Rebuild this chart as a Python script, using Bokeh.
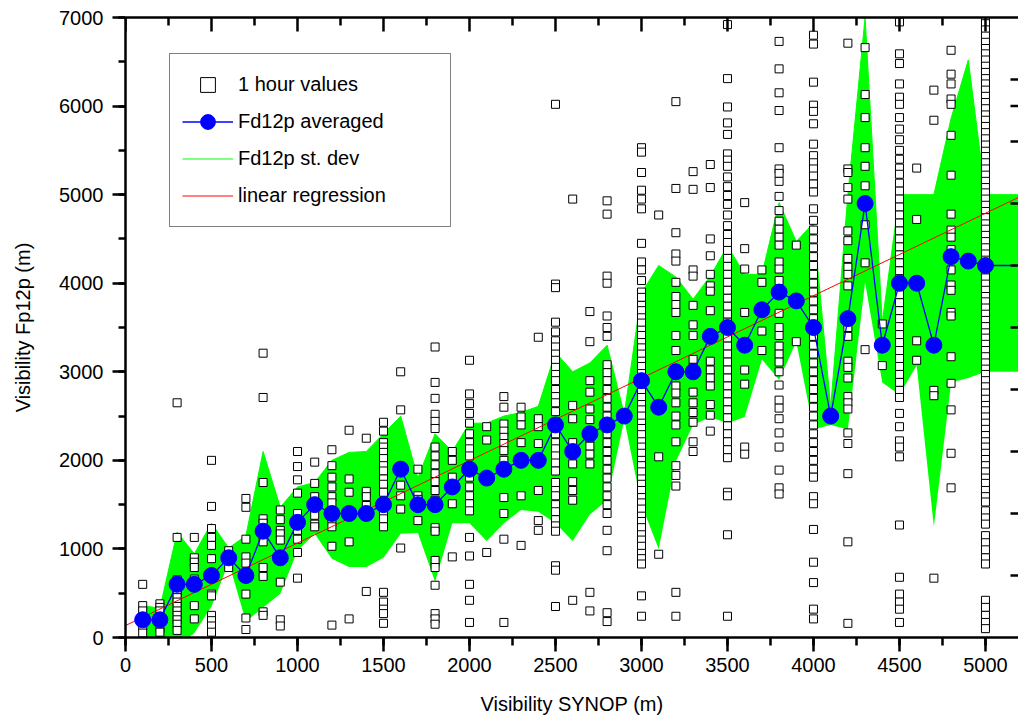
import math
from bokeh.plotting import figure
from bokeh.models import (Range1d, LinearAxis, SingleIntervalTicker, FixedTicker,
                          Legend, LegendItem)
from bokeh.embed import file_html
from bokeh.resources import INLINE

FONT = "Liberation Sans"

# ---------------- data ----------------
synop_x = [100, 200, 300, 400, 500, 600, 700, 800, 900, 1000,
           1100, 1200, 1300, 1400, 1500, 1600, 1700, 1800, 1900, 2000,
           2100, 2200, 2300, 2400, 2500, 2600, 2700, 2800, 2900, 3000,
           3100, 3200, 3300, 3400, 3500, 3600, 3700, 3800, 3900, 4000,
           4100, 4200, 4300, 4400, 4500, 4600, 4700, 4800, 4900, 5000, 5200]
fd12p_avg = [200, 200, 600, 600, 700, 900, 700, 1200, 900, 1300,
             1500, 1400, 1400, 1400, 1500, 1900, 1500, 1500, 1700, 1900,
             1800, 1900, 2000, 2000, 2400, 2100, 2300, 2400, 2500, 2900,
             2600, 3000, 3000, 3400, 3500, 3300, 3700, 3900, 3800, 3500,
             2500, 3600, 4900, 3300, 4000, 4000, 3300, 4300, 4250, 4200, 4200]
stdev_upper = [360, 330, 1190, 945, 1290, 1010, 1150, 2100, 1470, 1700,
               1750, 2000, 2090, 2100, 2300, 2500, 1800, 2300, 2100, 2420,
               2420, 2500, 2540, 2610, 3220, 3000, 3100, 3300, 2520, 3890,
               4200, 4070, 3820, 4080, 4420, 4100, 4100, 4910, 4470, 4680,
               2600, 5000, 7000, 3560, 5000, 5000, 5000, 5860, 6520, 5000, 5000]
stdev_lower = [20, -100, -100, 50, 350, 850, 180, 340, 495, 980,
               1170, 890, 795, 795, 900, 1170, 1180, 630, 1290, 1290,
               1090, 1290, 1440, 1420, 1290, 1090, 1390, 1550, 2460, 1500,
               1000, 1990, 2400, 2490, 2420, 2490, 3140, 2910, 3340, 2350,
               2400, 2350, 4010, 2880, 2740, 3070, 1250, 2880, 2930, 3000, 3000]
n_avg_points = 50   # markers only at the measured classes (100 ... 5000)

reg_intercept = 135.0
reg_slope = 0.931
reg_x = [0, 5200]

hour_cols = [100, 200, 300, 400, 500, 600, 700, 800, 900, 1000,
             1100, 1200, 1300, 1400, 1500, 1600, 1700, 1800, 1900, 2000,
             2100, 2200, 2300, 2400, 2500, 2600, 2700, 2800, 2900, 3000,
             3100, 3200, 3300, 3400, 3500, 3600, 3700, 3800, 3900, 4000,
             4100, 4200, 4300, 4400, 4500, 4600, 4700, 4800, 4900, 5000]
hour_vals = [
    [600, 360, 300, 200, 130, 50],
    [380, 340, 300, 200, 100, 60],
    [2650, 1130, 650, 600, 550, 500, 450, 400, 350, 300, 250, 200, 150, 80],
    [1130, 900, 850, 790, 660, 590, 360, 210],
    [2000, 1480, 1230, 1130, 1040, 890, 490, 470, 250, 190, 130, 60],
    [980, 900, 790],
    [1570, 1470, 1110, 910, 840, 490, 220, 90],
    [3210, 2710, 1750, 1340, 1290, 1200, 1080, 790, 690, 290, 250],
    [1440, 1330, 1210, 1170, 1100, 900, 625, 200, 130],
    [2100, 1930, 1780, 1630, 1400, 1210, 1110, 960, 670],
    [1980, 1740, 1590, 1380, 1280, 1250],
    [2120, 1940, 1810, 1700, 1590, 1520, 1300, 1250, 1030, 140],
    [2340, 1790, 1640, 1080, 210],
    [2250, 1650, 1590, 1490, 520],
    [2430, 2330, 2200, 2150, 2090, 2020, 1940, 1880, 1790, 1730, 1640, 1530,
     1400, 1340, 1250, 510, 400, 320, 270, 160],
    [3000, 2570, 1720, 1600, 1450, 1010],
    [1900, 1600, 1560, 1320],
    [3280, 2880, 2700, 2520, 2440, 2360, 2150, 2050, 1950, 1850, 1760, 1660,
     1550, 1240, 1200, 870, 790, 590, 270, 210, 150],
    [2100, 2000, 1810, 1700, 1510, 910],
    [3130, 2750, 2640, 2530, 2420, 2300, 2200, 2130, 2050, 1920, 1810, 1700,
     1600, 1510, 1430, 1130, 920, 600, 420, 170],
    [2380, 2230, 1810, 960],
    [2720, 2600, 2410, 2330, 2260, 2190, 2110, 2000, 1920, 1580, 1400, 1110, 170],
    [2600, 2490, 2400, 2200, 1600, 1040],
    [3390, 2470, 2380, 2190, 1660, 1320, 1210],
    [6020, 3990, 3950, 3560, 3450, 3350, 3280, 3200, 3130, 3050, 2970, 2900,
     2800, 2720, 2650, 2550, 2430, 2300, 2200, 2130, 2050, 1970, 1880, 1750,
     1660, 1600, 1500, 1420, 1330, 1260, 1200, 810, 760, 350],
    [4950, 2620, 2470, 2200, 2090, 1960, 1760, 1660, 1550, 420],
    [3680, 3340, 2900, 2770, 2580, 2460, 2330, 2250, 2160, 2070, 1960, 510, 300],
    [4930, 4780, 4080, 4000, 3630, 3500, 3400, 3080, 2990, 2900, 2800, 2700,
     2600, 2500, 2400, 2300, 2200, 2100, 2000, 1900, 1800, 1700, 1600, 1500,
     1400, 1210, 980, 280, 180],
    [2500],
    [5530, 5480, 5250, 5050, 4950, 4840, 4450, 4240, 4150, 4030, 3900, 3840,
     3750, 3690, 3610, 3550, 3470, 3410, 3330, 3270, 3200, 3120, 3060, 2980,
     2920, 2850, 2770, 2710, 2630, 2570, 2500, 2420, 2360, 2290, 2210, 2150,
     2080, 2000, 1940, 1870, 1790, 1730, 1660, 1580, 1520, 1450, 1370, 1310,
     1240, 1160, 1100, 1030, 950, 890, 830, 470, 240],
    [4770, 2040, 940],
    [6050, 5070, 4570, 4330, 4250, 4010, 3850, 3760, 3670, 3410, 3240, 3000,
     2840, 2760, 2650, 2500, 2400, 2210, 1940, 1830, 1710, 510, 240],
    [5260, 5060, 4150, 4080, 3750, 3530, 3410, 3140, 3050, 2770, 2650, 2540,
     2430, 2210, 2100],
    [5340, 5080, 4500, 4310, 4100, 3970, 3910, 3690, 3430, 3120, 3020, 2930,
     2840, 2630, 2510, 2330],
    [6920, 6310, 5990, 5810, 5680, 5460, 5390, 5320, 5200, 5090, 4990, 4890,
     4770, 4650, 4550, 4460, 4370, 4280, 4190, 4100, 4010, 3920, 3830, 3740,
     3650, 3560, 3470, 3380, 3290, 3200, 3110, 3020, 2930, 2840, 2750, 2660,
     2570, 2480, 2390, 2300, 2210, 2120, 2030, 1640, 1600, 1160, 240],
    [4910, 4390, 4160, 3670, 3020, 2860, 2150, 2070],
    [4150, 4010, 3460, 3240],
    [6730, 6420, 6150, 5950, 5530, 5290, 5240, 5150, 4980, 4820, 4700, 4610,
     4520, 4430, 4240, 4160, 4030, 3900, 3660, 3500, 3410, 3290, 3200, 3110,
     3000, 2850, 2680, 2590, 2470, 2310, 2150, 1890, 1690, 1620],
    [4430, 3340],
    [6800, 6700, 6270, 6010, 5940, 5800, 5570, 5440, 5360, 5290, 5210, 5120,
     5030, 4840, 4710, 4600, 4500, 4400, 4300, 4200, 4100, 4000, 3900, 3800,
     3700, 3600, 3500, 3400, 3300, 3200, 3100, 3000, 2900, 2800, 2700, 2600,
     2500, 2400, 2300, 2200, 2100, 2000, 1900, 1810, 1590, 1510, 1220, 850,
     620, 320, 210],
    [2530],
    [6710, 5290, 5250, 5080, 4950, 4590, 4480, 4280, 4180, 4100, 3970, 3600,
     3500, 3400, 3120, 3050, 2930, 2720, 2650, 2580, 2310, 2190, 1850, 1080, 160],
    [6660, 6130, 5870, 5530, 5320, 5100, 4660, 4230, 3250],
    [3540, 3070],
    [6950, 6590, 6480, 6250, 6100, 6020, 5870, 5740, 5620, 5500, 5400, 5300,
     5230, 5130, 5040, 4950, 4860, 4770, 4680, 4590, 4500, 4410, 4320, 4230,
     4140, 4050, 3960, 3870, 3780, 3690, 3600, 3510, 3420, 3330, 3240, 3150,
     3060, 2970, 2880, 2790, 2710, 2530, 2380, 2220, 2150, 2040, 1270, 680,
     490, 400, 320, 170],
    [5300, 4720, 3350, 3130],
    [6180, 5840, 2790, 2730, 670],
    [6630, 6360, 6250, 6080, 6020, 5670, 5220, 4780, 4600, 4520, 4380, 4300,
     4150, 3980, 3920, 3670, 3630, 3170, 2870, 2570, 2080, 1690],
    [4250],
    [6990, 6930, 6860, 6790, 6720, 6650, 6590, 6520, 6450, 6380, 6310, 6250,
     6180, 6110, 6040, 5970, 5900, 5840, 5770, 5700, 5630, 5560, 5490, 5430,
     5360, 5290, 5220, 5150, 5080, 5020, 4950, 4880, 4810, 4740, 4670, 4610,
     4540, 4470, 4400, 4330, 4260, 4200, 4130, 4060, 3990, 3920, 3850, 3790,
     3720, 3650, 3580, 3510, 3440, 3380, 3310, 3240, 3170, 3100, 3030, 2970,
     2900, 2830, 2760, 2690, 2620, 2560, 2490, 2420, 2350, 2280, 2210, 2150,
     2080, 2010, 1940, 1870, 1800, 1740, 1660, 1590, 1530, 1430, 1350, 1280,
     1150, 1070, 990, 900, 830, 420, 340, 250, 170, 100],
]

x_label = "Visibility SYNOP (m)"
y_label = "Visibility Fp12p (m)"
top_major_ticks = [0, 500, 1000, 1500, 2000, 2500, 3000, 3500, 4000, 4500, 5000]
top_minor_ticks = [250, 750, 1250, 1750, 2250, 2750, 3250, 3750, 4250, 4750]
right_ticks = [700, 1400, 2100, 2800, 3500, 4200, 4900, 5600, 6000, 6300]

X_END, Y_END = 5192, 7000

# ---------------- figure ----------------
p = figure(width=1018, height=724, output_backend="svg", toolbar_location=None,
           x_range=Range1d(0, X_END), y_range=Range1d(0, Y_END),
           x_axis_location=None, y_axis_location=None,
           min_border_left=125, min_border_right=0, min_border_top=17,
           min_border_bottom=87)
p.outline_line_color = None
for g in p.grid:
    g.visible = False
p.background_fill_color = "white"
p.border_fill_color = "white"


def style_axis(ax):
    ax.axis_line_width = 2.5
    ax.axis_line_color = "black"
    ax.major_tick_line_width = 2.5
    ax.minor_tick_line_width = 2.5
    ax.major_tick_line_color = "black"
    ax.minor_tick_line_color = "black"
    ax.major_label_text_font = FONT
    ax.major_label_text_font_size = "20px"
    ax.major_label_text_color = "black"
    ax.axis_label_text_font = FONT
    ax.axis_label_text_font_size = "20px"
    ax.axis_label_text_font_style = "normal"
    ax.axis_label_text_color = "black"


bottom = LinearAxis(ticker=SingleIntervalTicker(interval=500, num_minor_ticks=2),
                    axis_label=x_label)
style_axis(bottom)
bottom.major_tick_in = 0
bottom.major_tick_out = 14
bottom.minor_tick_in = 0
bottom.minor_tick_out = 8
bottom.major_label_standoff = 6
bottom.axis_label_standoff = 18
p.add_layout(bottom, "below")

left = LinearAxis(ticker=SingleIntervalTicker(interval=1000, num_minor_ticks=2),
                  axis_label=y_label)
style_axis(left)
left.major_tick_in = 0
left.major_tick_out = 13
left.minor_tick_in = 0
left.minor_tick_out = 7
left.major_label_standoff = 9
left.axis_label_standoff = 22
p.add_layout(left, "left")

# top frame line only (no ticks or labels on this axis; its ticks are drawn below)
top = LinearAxis(ticker=FixedTicker(ticks=[], minor_ticks=[]))
style_axis(top)
top.major_label_standoff = 0
top.major_tick_out = 0
top.major_tick_in = 0
p.add_layout(top, "above")

# ---------------- glyphs ----------------
band = p.varea(x=synop_x, y1=stdev_lower, y2=stdev_upper, fill_color="#00ff00")

hx, hy = [], []
for cx, vals in zip(hour_cols, hour_vals):
    for v in vals:
        hx.append(cx)
        hy.append(v)
sq = p.scatter(x=hx, y=hy, marker="square", size=8, fill_color="white",
               line_color="black", line_width=1)

reg_y = [reg_intercept + reg_slope * xv for xv in reg_x]
reg = p.line(x=reg_x, y=reg_y, line_color="red", line_width=1)

avg_line = p.line(x=synop_x, y=fd12p_avg, line_color="blue", line_width=1.3)
avg_pts = p.scatter(x=synop_x[:n_avg_points], y=fd12p_avg[:n_avg_points],
                    marker="circle", size=16, fill_color="blue", line_color="blue")

# legend key for the st. dev band: a green line along the band's upper edge,
# drawn underneath the band (same colour), so only the legend shows it
sd_key = p.line(x=synop_x, y=stdev_upper, line_color="#00ff00", line_width=1,
                level="underlay")

# inward ticks of the top and right frame (no labels there in the original)
p.ray(x=top_major_ticks, y=[Y_END] * len(top_major_ticks), length=14,
      length_units="screen", angle=-math.pi / 2, line_color="black", line_width=2.5)
p.ray(x=top_minor_ticks, y=[Y_END] * len(top_minor_ticks), length=8,
      length_units="screen", angle=-math.pi / 2, line_color="black", line_width=2.5)
p.ray(x=[X_END] * len(right_ticks), y=right_ticks, length=8,
      length_units="screen", angle=math.pi, line_color="black", line_width=2.5)

legend = Legend(items=[
    LegendItem(label="1 hour values", renderers=[sq]),
    LegendItem(label="Fd12p averaged", renderers=[avg_line, avg_pts]),
    LegendItem(label="Fd12p st. dev", renderers=[sd_key]),
    LegendItem(label="linear regression", renderers=[reg]),
], location=(44, 410))
legend.border_line_color = "black"
legend.border_line_width = 1.5
legend.background_fill_color = "white"
legend.background_fill_alpha = 1.0
legend.padding = 12
legend.spacing = 0
legend.margin = 0
legend.glyph_width = 51
legend.glyph_height = 37
legend.label_height = 37
legend.label_width = 200
legend.label_standoff = 5
legend.label_text_font = FONT
legend.label_text_font_size = "20px"
legend.label_text_color = "black"
p.add_layout(legend, "center")

open("out.html", "w").write(file_html(p, INLINE))
